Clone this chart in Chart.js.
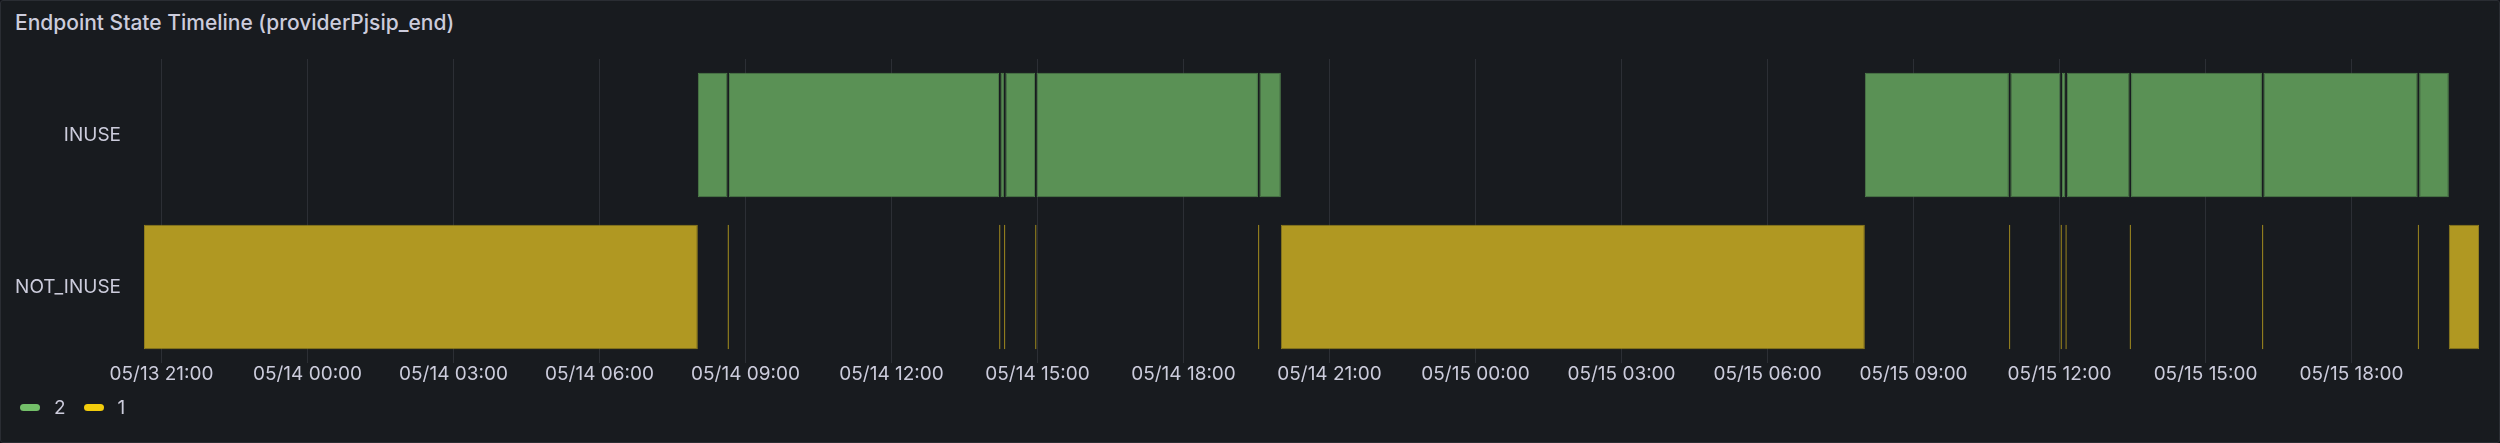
<!DOCTYPE html>
<html><head><meta charset="utf-8">
<script src="https://cdn.jsdelivr.net/npm/chart.js@4"></script>
<style>
html,body{margin:0;padding:0;background:#111217;}
#panel{position:absolute;left:0;top:0;width:2498px;height:441px;background:#181b1f;border:1px solid #2a2d33;border-radius:3px;overflow:hidden;font-family:Inter,sans-serif;}
#title{position:absolute;left:14px;top:9px;font-size:21px;font-weight:500;color:#ccccdc;}
#cv{position:absolute;left:0;top:0;}
#legend{position:absolute;left:19px;top:395px;display:flex;align-items:center;font-size:19px;color:#ccccdc;}
.pill{display:inline-block;width:20px;height:7px;border-radius:4px;margin-right:14px;}
.item{display:flex;align-items:center;margin-right:18px;}
</style></head><body>
<div id="panel">
<div id="title">Endpoint State Timeline (providerPjsip_end)</div>
<canvas id="cv" width="2498" height="400" style="width:2498px;height:400px"></canvas>
<div id="legend"></div>
</div>
<script>
// hours since 05/13 00:00
const categories = ['INUSE','NOT_INUSE'];
const rangeStart = 20.64, rangeEnd = 68.62;
// state change times and state (2 = INUSE, 1 = NOT_INUSE)
const changeTimes = [20.64, 32.02, 32.63, 32.66, 38.21, 38.24, 38.31, 38.34, 38.95, 38.98, 43.53, 43.56, 44.0, 56.0, 58.96, 58.99, 60.02, 60.05, 60.12, 60.15, 61.44, 61.47, 64.16, 64.19, 67.36, 67.39, 68.0];
const states      = [1,     2,     1,     2,     1,     2,     1,     2,     1,     2,     1,     2,     1,    2,    1,     2,     1,     2,     1,     2,     1,     2,     1,     2,     1,     2,     1];
const seriesNames = ['2','1'];
const seriesColors = {2:'#5a9155', 1:'#b09822'};
const seriesBorders = {2:'#4f7e4b', 1:'#8f7c1e'};

function segs(state){
  const out=[];
  for(let i=0;i<changeTimes.length;i++){
    if(states[i]!==state) continue;
    const e = i+1<changeTimes.length ? changeTimes[i+1] : rangeEnd;
    out.push({y: state===2?'INUSE':'NOT_INUSE', x:[changeTimes[i], e]});
  }
  return out;
}
const datasets = [2,1].map(s=>({
  label:String(s), data:segs(s), backgroundColor:seriesColors[s], borderColor:seriesBorders[s],
  borderWidth:1, borderSkipped:false, grouped:false, barPercentage:0.82, categoryPercentage:1
}));

function fmt(h){
  const day = 13+Math.floor(h/24); const hh = ((h%24)+24)%24;
  return '05/'+String(day).padStart(2,'0')+' '+String(Math.round(hh)).padStart(2,'0')+':00';
}

new Chart(document.getElementById('cv'),{
  type:'bar',
  data:{labels:categories, datasets},
  options:{
    indexAxis:'y', responsive:false, animation:false, devicePixelRatio:1,
    layout:{padding:{top:58,right:20,left:0,bottom:0}},
    plugins:{legend:{display:false},tooltip:{enabled:false}},
    scales:{
      x:{type:'linear', min:rangeStart, max:rangeEnd,
        afterFit(s){s.height=38;},
        afterBuildTicks(s){const t=[];for(let v=21;v<=rangeEnd;v+=3)t.push({value:v});s.ticks=t;},
        ticks:{callback:v=>fmt(v), color:'#ccccdc', font:{family:'Inter',size:19}, padding:0, maxRotation:0, autoSkip:false},
        grid:{color:'#2c2f35', drawTicks:false}, border:{display:false}},
      y:{type:'category', labels:categories,
        afterFit(s){s.width=143;},
        ticks:{color:'#ccccdc', font:{family:'Inter',size:19}, padding:23},
        grid:{display:false, drawTicks:false}, border:{display:false}}
    }
  }
});
const lg=document.getElementById('legend');
seriesNames.forEach(n=>{
  const d=document.createElement('div');d.className='item';
  d.innerHTML='<span class="pill" style="background:'+(n==='2'?'#73bf69':'#f2cc0c')+'"></span>'+n;
  lg.appendChild(d);
});
</script>
</body></html>
